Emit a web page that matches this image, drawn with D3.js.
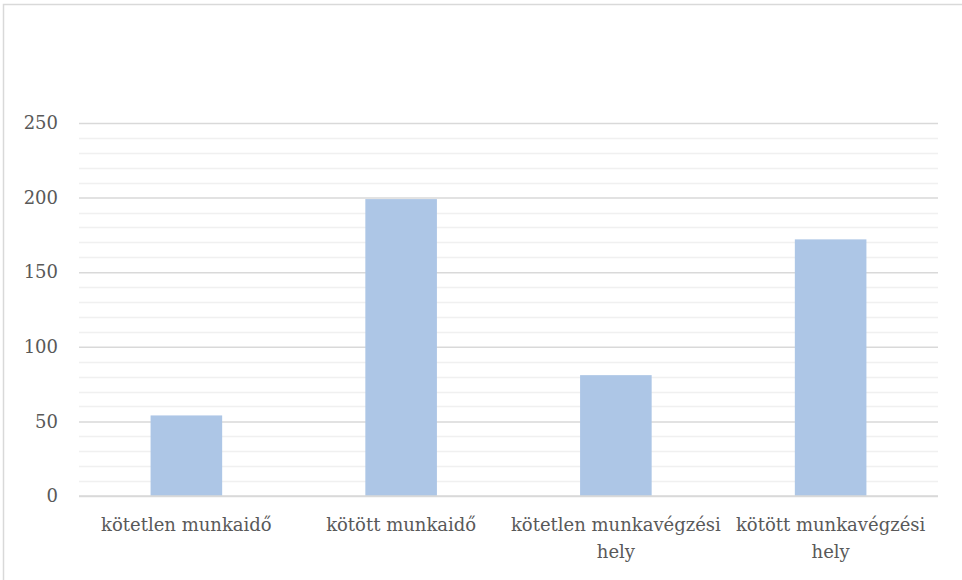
<!DOCTYPE html>
<html><head><meta charset="utf-8">
<script src="https://cdn.jsdelivr.net/npm/d3@7"></script>
<style>
html,body{margin:0;padding:0;background:#fff;overflow:hidden}
text{font-family:"DejaVu Serif","Liberation Serif",serif;fill:#595959}
</style></head>
<body>
<svg id="chart" width="962" height="580"></svg>
<script>
const categories = ["kötetlen munkaidő", "kötött munkaidő", "kötetlen munkavégzési hely", "kötött munkavégzési hely"];
const values = [54, 199, 81, 172];
const yTicks = [0, 50, 100, 150, 200, 250];
const yMinorTicks = d3.range(0, 251, 10);

const FONT = "DejaVu Serif, Liberation Serif, serif";
const svg = d3.select("#chart");
const margin = {left: 79, right: 24, top: 123, bottom: 84};
const W = 962, H = 580;

svg.append("rect").attr("x", 3.5).attr("y", 4.5).attr("width", 970).attr("height", 590)
  .attr("fill", "#fff").attr("stroke", "#d9d9d9").attr("stroke-width", 1.5);

const x = d3.scaleBand().domain(categories).range([margin.left, W - margin.right])
  .paddingInner(2/3).paddingOuter(1/3);
const y = d3.scaleLinear().domain([0, 250]).range([H - margin.bottom, margin.top]);

// minor gridlines
svg.append("g").selectAll("line").data(yMinorTicks.filter(d => d % 50 !== 0)).join("line")
  .attr("x1", margin.left).attr("x2", W - margin.right)
  .attr("y1", d => Math.round(y(d)) + 0.5).attr("y2", d => Math.round(y(d)) + 0.5)
  .attr("stroke", "#f0f0f0").attr("stroke-width", 1.5);

// major gridlines via axis
const yAxis = d3.axisLeft(y).tickValues(yTicks).tickSize(-(W - margin.left - margin.right)).tickPadding(21);
const gy = svg.append("g").attr("transform", `translate(${margin.left},0)`).call(yAxis);
gy.select(".domain").remove();
gy.selectAll(".tick line").attr("stroke", "#d9d9d9").attr("stroke-width", 1.5);
gy.selectAll(".tick text").attr("font-size", 18).attr("fill", "#595959")
  .attr("font-family", FONT);

// bars
svg.append("g").selectAll("rect").data(values).join("rect")
  .attr("x", (d, i) => x(categories[i]))
  .attr("width", x.bandwidth())
  .attr("y", d => y(d))
  .attr("height", d => y(0) - y(d))
  .attr("fill", "#adc6e6");

// baseline
svg.append("line").attr("x1", margin.left).attr("x2", W - margin.right)
  .attr("y1", y(0)).attr("y2", y(0)).attr("stroke", "#d9d9d9").attr("stroke-width", 1.5);

// x axis labels
const xAxis = d3.axisBottom(x).tickSize(0).tickPadding(0);
const gx = svg.append("g").attr("transform", `translate(0,${y(0)})`).call(xAxis);
gx.select(".domain").remove();
const step = x.step();
gx.selectAll(".tick text").attr("font-size", 18).attr("fill", "#595959")
  .attr("font-family", FONT)
  .each(function(d) {
    const t = d3.select(this);
    const words = d.split(" ");
    t.text(null).attr("y", 0).attr("dy", null);
    let lines = [], line = [];
    const tmp = t.append("tspan");
    words.forEach(w => {
      line.push(w);
      tmp.text(line.join(" "));
      if (tmp.node().getComputedTextLength() > step - 2 && line.length > 1) {
        line.pop(); lines.push(line.join(" ")); line = [w];
      }
    });
    lines.push(line.join(" "));
    tmp.remove();
    lines.forEach((l, i) => {
      t.append("tspan").attr("x", 0).attr("y", 35 + i * 27).text(l);
    });
  });
</script>
</body></html>
